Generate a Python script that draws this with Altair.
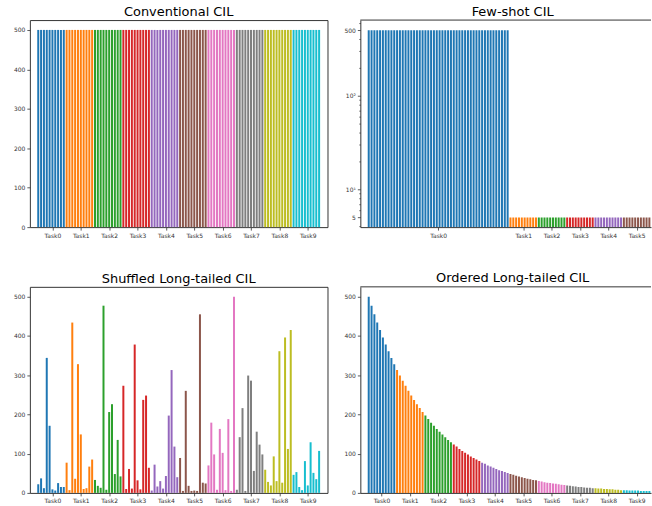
import altair as alt
import pandas as pd

# ---------------- data ----------------
task_labels = ["Task0", "Task1", "Task2", "Task3", "Task4",
               "Task5", "Task6", "Task7", "Task8", "Task9"]
task_colors = ["#1f77b4", "#ff7f0e", "#2ca02c", "#d62728", "#9467bd",
               "#8c564b", "#e377c2", "#7f7f7f", "#bcbd22", "#17becf"]

# classes per task
conventional_task_sizes = [10, 10, 10, 10, 10, 10, 10, 10, 10, 10]
fewshot_task_sizes = [50, 10, 10, 10, 10, 10]

conventional_counts = [
    500, 500, 500, 500, 500, 500, 500, 500, 500, 500,
    500, 500, 500, 500, 500, 500, 500, 500, 500, 500,
    500, 500, 500, 500, 500, 500, 500, 500, 500, 500,
    500, 500, 500, 500, 500, 500, 500, 500, 500, 500,
    500, 500, 500, 500, 500, 500, 500, 500, 500, 500,
    500, 500, 500, 500, 500, 500, 500, 500, 500, 500,
    500, 500, 500, 500, 500, 500, 500, 500, 500, 500,
    500, 500, 500, 500, 500, 500, 500, 500, 500, 500,
    500, 500, 500, 500, 500, 500, 500, 500, 500, 500,
    500, 500, 500, 500, 500, 500, 500, 500, 500, 500,
]

fewshot_counts = [
    500, 500, 500, 500, 500, 500, 500, 500, 500, 500,
    500, 500, 500, 500, 500, 500, 500, 500, 500, 500,
    500, 500, 500, 500, 500, 500, 500, 500, 500, 500,
    500, 500, 500, 500, 500, 500, 500, 500, 500, 500,
    500, 500, 500, 500, 500, 500, 500, 500, 500, 500,
    5, 5, 5, 5, 5, 5, 5, 5, 5, 5,
    5, 5, 5, 5, 5, 5, 5, 5, 5, 5,
    5, 5, 5, 5, 5, 5, 5, 5, 5, 5,
    5, 5, 5, 5, 5, 5, 5, 5, 5, 5,
    5, 5, 5, 5, 5, 5, 5, 5, 5, 5,
]

shuffled_counts = [
    22, 37, 12, 344, 171, 9, 6, 25, 15, 15,
    77, 7, 434, 36, 328, 149, 10, 12, 67, 85,
    33, 18, 13, 477, 8, 206, 226, 48, 135, 42,
    273, 10, 61, 11, 378, 32, 9, 237, 248, 64,
    6, 72, 16, 30, 11, 43, 197, 313, 118, 40,
    89, 5, 260, 18, 5, 6, 5, 455, 26, 24,
    70, 179, 98, 8, 163, 102, 7, 188, 5, 500,
    8, 142, 216, 5, 299, 286, 56, 156, 123, 98,
    59, 28, 19, 93, 30, 361, 26, 396, 112, 415,
    46, 53, 15, 7, 81, 19, 129, 51, 35, 107,
]

ordered_counts = [
    500, 477, 455, 434, 415, 396, 378, 361, 344, 328,
    313, 299, 286, 273, 260, 248, 237, 226, 216, 206,
    197, 188, 179, 171, 163, 156, 149, 142, 135, 129,
    123, 118, 112, 107, 102, 98, 93, 89, 85, 81,
    77, 74, 70, 67, 64, 61, 58, 56, 53, 51,
    48, 46, 44, 42, 40, 38, 36, 35, 33, 32,
    30, 29, 27, 26, 25, 24, 23, 22, 21, 20,
    19, 18, 17, 16, 15, 15, 14, 13, 13, 12,
    12, 11, 11, 10, 10, 9, 9, 8, 8, 7,
    7, 7, 6, 6, 6, 6, 5, 5, 5, 5,
]

# tick positions (class index) for the task labels
std_tick_pos = [5, 15, 25, 35, 45, 55, 65, 75, 85, 95]
ordered_tick_pos = [4.5, 14.5, 24.5, 34.5, 44.5, 54.5, 64.5, 74.5, 84.5, 94.5]
fewshot_tick_pos = [24.5, 54.5, 64.5, 74.5, 84.5, 94.5]

linear_y_ticks = [0, 100, 200, 300, 400, 500]
log_major_ticks = [5, 10, 100, 500]
log_major_labels = ["5", "10\u00b9", "10\u00b2", "500"]
log_minor_ticks = [4, 6, 7, 8, 9, 20, 30, 40, 50, 60, 70, 80, 90, 200, 300, 400, 600]
LOG_MIN = 3.94

FRAME = "#333"
PX_PER_CLASS = 2.949
LEFT_W = 299
RIGHT_W = 292   # right column is cut off by the page edge
X_DOMAIN_FULL = [-1.2, 100.2]
X_DOMAIN_CUT = [-1.2, -1.2 + RIGHT_W / PX_PER_CLASS]


def task_column(sizes):
    out = []
    for k, n in enumerate(sizes):
        out += [task_labels[k]] * n
    return out


def make_df(counts, sizes):
    return pd.DataFrame({
        "cls": list(range(len(counts))),
        "count": counts,
        "task": task_column(sizes),
    })


def js_list(vals):
    return "[" + ",".join(repr(v) if isinstance(v, str) else str(v) for v in vals) + "]"


color_enc = alt.Color("task:N", scale=alt.Scale(domain=task_labels, range=task_colors), legend=None)


def x_enc(tick_pos, labels, domain, cut):
    expr = f"{js_list(labels)}[indexof({js_list(tick_pos)}, datum.value)]"
    extra = dict(domain=True, domainColor=FRAME, domainWidth=1) if cut else {}
    return alt.X("cls:Q",
                 scale=alt.Scale(domain=domain, nice=False, zero=False),
                 axis=alt.Axis(values=tick_pos, labelExpr=expr, title=None, **extra))


def y_linear(cut):
    extra = dict(domain=True, domainColor=FRAME, domainWidth=1) if cut else {}
    return alt.Y("count:Q", scale=alt.Scale(domain=[0, 525], nice=False),
                 axis=alt.Axis(values=linear_y_ticks, title=None, **extra))


def y_log(cut):
    all_ticks = sorted(log_major_ticks + log_minor_ticks)
    lab_expr = (f"indexof({js_list(log_major_ticks)}, datum.value) >= 0 ? "
                f"{js_list(log_major_labels)}[indexof({js_list(log_major_ticks)}, datum.value)] : ''")
    extra = dict(domain=True, domainColor=FRAME, domainWidth=1) if cut else {}
    return alt.Y("count:Q",
                 scale=alt.Scale(type="log", domain=[LOG_MIN, 644], nice=False),
                 axis=alt.Axis(values=all_ticks, labelExpr=lab_expr, title=None,
                               tickSize={"condition": {"test": f"indexof({js_list(log_major_ticks)}, datum.value) >= 0",
                                                       "value": 3}, "value": 1.5},
                               **extra))


def left_panel(df, title, h, tick_pos):
    return alt.Chart(df).mark_bar(size=2).encode(
        x=x_enc(tick_pos, task_labels, X_DOMAIN_FULL, False),
        y=y_linear(False),
        color=color_enc,
    ).properties(width=LEFT_W, height=h, title=title)


top_frame_df = pd.DataFrame({"frame": [0]})


def right_panel(df, title, h, tick_pos, labels, log):
    enc = dict(
        x=x_enc(tick_pos, labels, X_DOMAIN_CUT, True),
        y=y_log(True) if log else y_linear(True),
        color=color_enc,
    )
    if log:
        enc["y2"] = alt.datum(LOG_MIN)
    bars = alt.Chart(df).mark_bar(size=2, clip=True).encode(**enc)
    top_line = alt.Chart(top_frame_df).mark_rule(color=FRAME, strokeWidth=1).encode(
        x=alt.value(0), x2=alt.value(RIGHT_W), y=alt.value(0))
    return alt.layer(bars, top_line).properties(
        width=RIGHT_W, height=h,
        title=alt.TitleParams(title, dx=7),
        view=alt.ViewBackground(strokeOpacity=0),
    )


conv = left_panel(make_df(conventional_counts, conventional_task_sizes),
                  "Conventional CIL", 208, std_tick_pos)
few = right_panel(make_df(fewshot_counts, fewshot_task_sizes),
                  "Few-shot CIL", 208, fewshot_tick_pos, task_labels[:6], True)
shuf = left_panel(make_df(shuffled_counts, conventional_task_sizes),
                  "Shuffled Long-tailed CIL", 207, std_tick_pos)
ordr = right_panel(make_df(ordered_counts, conventional_task_sizes),
                   "Ordered Long-tailed CIL", 207, ordered_tick_pos, task_labels, False)

chart = alt.vconcat(
    alt.hconcat(conv, few, spacing=15),
    alt.hconcat(shuf, ordr, spacing=15),
    spacing=33,
).properties(
    padding={"left": 13, "top": 4, "right": 0, "bottom": 0},
    background="white",
).configure_view(
    stroke=FRAME, strokeWidth=1,
).configure_axis(
    labelFont="DejaVu Sans", labelFontSize=6, labelColor="#333",
    tickColor="#333", tickSize=3, tickWidth=0.8, labelPadding=2,
    domain=False, grid=False,
).configure_title(
    font="DejaVu Sans", fontSize=13, fontWeight="normal", color="black",
    offset=1, anchor="middle",
)

chart.save("out.html", embed_options={"renderer": "svg", "actions": False})
